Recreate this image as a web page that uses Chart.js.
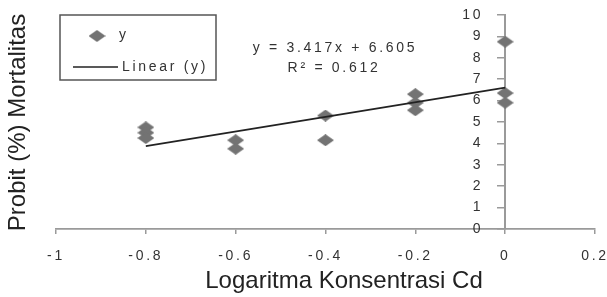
<!DOCTYPE html>
<html>
<head>
<meta charset="utf-8">
<script src="https://cdn.jsdelivr.net/npm/chart.js@4/dist/chart.umd.min.js"></script>
<style>
  html, body { margin: 0; padding: 0; background: #fff; }
  #wrap { width: 607px; height: 297px; position: relative; }
</style>
</head>
<body>
<div id="wrap"><canvas id="c" width="607" height="297"></canvas></div>
<script>
// ---- data ----
const xValues = [-0.8, -0.8, -0.8, -0.6, -0.6, -0.4, -0.4, -0.2, -0.2, -0.2, 0, 0, 0];
const yValues = [4.75, 4.5, 4.25, 4.15, 3.75, 5.3, 4.15, 6.3, 5.9, 5.55, 8.75, 6.35, 5.9];
const trendSlope = 3.417;
const trendIntercept = 6.605;
const rSquared = 0.612;
const xTicks = [-1, -0.8, -0.6, -0.4, -0.2, 0, 0.2];
const yTicks = [0, 1, 2, 3, 4, 5, 6, 7, 8, 9, 10];
const seriesName = 'y';
const trendName = 'Linear (y)';
const xTitle = 'Logaritma Konsentrasi Cd';
const yTitle = 'Probit (%) Mortalitas';

// ---- styles ----
const markerColor = '#737373';
const lineColor = '#222222';
const axisColor = '#9a9a9a';
const textColor = '#333333';
const smallFont = '14px "Liberation Sans", Arial, sans-serif';
const titleFont = '24px "Liberation Sans", Arial, sans-serif';
const SPACING = '2.7px';
const Y_LABEL_SHIFT = -22;

// diamond marker image (wider than tall, like the original)
function makeDiamond(w, h, color) {
  const cv = document.createElement('canvas');
  cv.width = w; cv.height = h;
  const c = cv.getContext('2d');
  c.fillStyle = color;
  c.beginPath();
  c.moveTo(w / 2, 0); c.lineTo(w, h / 2); c.lineTo(w / 2, h); c.lineTo(0, h / 2);
  c.closePath(); c.fill();
  return cv;
}
const diamond = makeDiamond(17, 12, markerColor);

const points = xValues.map((x, i) => ({ x: x, y: yValues[i] }));
const xMinData = Math.min.apply(null, xValues);
const xMaxData = Math.max.apply(null, xValues);
const trendPoints = [xMinData, xMaxData].map(x => ({ x: x, y: trendSlope * x + trendIntercept }));

const decor = {
  id: 'decor',
  beforeDraw(chart) {
    chart.ctx.letterSpacing = SPACING;
    // y axis sits at x = 0; move its labels to the left of the tick marks
    const ys = chart.scales.y;
    const items = ys.getLabelItems(chart.chartArea);
    if (!ys._shifted) {
      items.forEach(it => { it.options.translation[0] += Y_LABEL_SHIFT; });
      ys._shifted = true;
    }
  },
  afterUpdate(chart) {
    if (chart.scales.y) chart.scales.y._shifted = false;
  },
  beforeDatasetsDraw(chart) {
    chart.ctx.letterSpacing = '0px';
  },
  afterDraw(chart) {
    const ctx = chart.ctx;
    ctx.save();
    // axis titles
    ctx.letterSpacing = '0px';
    ctx.fillStyle = '#222';
    ctx.font = titleFont;
    ctx.textAlign = 'center';
    ctx.textBaseline = 'alphabetic';
    ctx.fillText(xTitle, 344, 288);
    ctx.save();
    ctx.translate(25, 122.5);
    ctx.rotate(-Math.PI / 2);
    ctx.fillText(yTitle, 0, 0);
    ctx.restore();

    // equation text
    ctx.letterSpacing = SPACING;
    ctx.font = smallFont;
    ctx.fillStyle = textColor;
    ctx.textBaseline = 'middle';
    ctx.textAlign = 'center';
    ctx.fillText('y = ' + trendSlope.toFixed(3) + 'x + ' + trendIntercept.toFixed(3), 335, 48);
    ctx.fillText('R\u00B2 = ' + rSquared.toFixed(3), 334, 68);

    // legend box
    ctx.letterSpacing = '0px';
    ctx.fillStyle = '#fff';
    ctx.fillRect(60, 15, 156, 65);
    ctx.strokeStyle = '#555';
    ctx.lineWidth = 1.5;
    ctx.strokeRect(60, 15, 156, 65);
    ctx.drawImage(diamond, 97 - diamond.width / 2, 36 - diamond.height / 2);
    ctx.strokeStyle = lineColor;
    ctx.lineWidth = 1.5;
    ctx.beginPath();
    ctx.moveTo(73, 67); ctx.lineTo(118, 67);
    ctx.stroke();
    ctx.letterSpacing = SPACING;
    ctx.fillStyle = textColor;
    ctx.textAlign = 'left';
    ctx.fillText(seriesName, 119, 35);
    ctx.fillText(trendName, 122, 67);
    ctx.restore();
  }
};

new Chart(document.getElementById('c'), {
  type: 'scatter',
  data: {
    datasets: [
      {
        type: 'line',
        label: trendName,
        data: trendPoints,
        borderColor: lineColor,
        borderWidth: 1.6,
        pointRadius: 0,
        fill: false,
        tension: 0
      },
      {
        label: seriesName,
        data: points,
        pointStyle: diamond,
        pointRadius: 8,
        backgroundColor: markerColor,
        borderColor: markerColor
      }
    ]
  },
  options: {
    responsive: false,
    animation: false,
    devicePixelRatio: 1,
    layout: { padding: { left: 56, right: 12, top: 15, bottom: 0 } },
    plugins: { legend: { display: false }, tooltip: { enabled: false } },
    scales: {
      x: {
        type: 'linear',
        position: 'bottom',
        min: xTicks[0],
        max: xTicks[xTicks.length - 1],
        afterBuildTicks: (s) => { s.ticks = xTicks.map(v => ({ value: v })); },
        afterFit: (s) => { s.height = 68; s.paddingLeft = 0; s.paddingRight = 0; },
        grid: { drawOnChartArea: false, drawTicks: true, tickLength: 5, color: axisColor, lineWidth: 1.5 },
        border: { color: axisColor, width: 1.8 },
        ticks: {
          color: textColor,
          font: { family: '"Liberation Sans", Arial, sans-serif', size: 14 },
          padding: 14,
          maxRotation: 0,
          autoSkip: false,
          callback: (v) => String(v)
        },
        title: { display: false }
      },
      y: {
        type: 'linear',
        position: { x: 0 },
        min: yTicks[0],
        max: yTicks[yTicks.length - 1],
        afterBuildTicks: (s) => { s.ticks = yTicks.map(v => ({ value: v })); },
        afterFit: (s) => { s.paddingTop = 0; s.paddingBottom = 0; },
        grid: { drawOnChartArea: false, drawTicks: true, tickLength: 7, color: axisColor, lineWidth: 1.5 },
        border: { color: axisColor, width: 2 },
        ticks: {
          color: textColor,
          font: { family: '"Liberation Sans", Arial, sans-serif', size: 14 },
          padding: 15,
          autoSkip: false,
          callback: (v) => String(v)
        },
        title: { display: false }
      }
    }
  },
  plugins: [decor]
});
</script>
</body>
</html>
